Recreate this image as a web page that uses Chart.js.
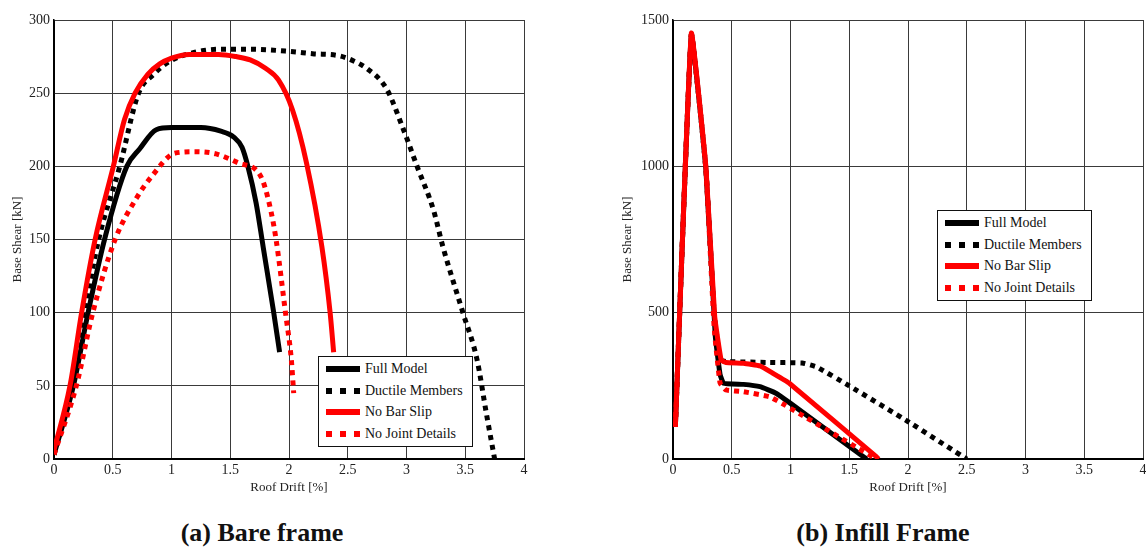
<!DOCTYPE html>
<html>
<head>
<meta charset="utf-8">
<script src="https://cdn.jsdelivr.net/npm/chart.js@4.4.1/dist/chart.umd.min.js"></script>
<style>
  body { margin: 0; background: #fff; overflow: hidden; width: 1146px; height: 547px; position: relative; font-family: "Liberation Serif", serif; }
  canvas { position: absolute; top: 0; }
  .caption { position: absolute; top: 518px; font-weight: bold; font-size: 26px; color: #111; transform: translateX(-50%); white-space: nowrap; }
  .legend { position: absolute; background: #fff; border: 1.5px solid #111; box-sizing: border-box; font-size: 14px; color: #111; }
  .row { position: absolute; left: 0; height: 16px; line-height: 16px; white-space: nowrap; }
  .sample { position: absolute; top: 5px; width: 34px; height: 6px; }
  .row span { position: absolute; top: 0; }
</style>
</head>
<body>
<canvas id="bare" width="560" height="500" style="left:0px;width:560px;height:500px"></canvas>
<canvas id="infill" width="532" height="500" style="left:618px;width:532px;height:500px"></canvas>

<div class="caption" style="left:262px">(a) Bare frame</div>
<div class="caption" style="left:883px">(b) Infill Frame</div>

<div class="legend" id="legendA" style="left:318px;top:356px;width:155px;height:91px"></div>
<div class="legend" id="legendB" style="left:937px;top:210px;width:155px;height:91px"></div>

<script>
// Pushover curves
const seriesNames = ['Full Model', 'Ductile Members', 'No Bar Slip', 'No Joint Details']

// (a) bare frame - roof drift [%] / base shear [kN]
const bareFullX = [0, 0.165, 0.29, 0.43, 0.62, 0.73, 0.87, 1.0, 1.25, 1.42, 1.53, 1.6, 1.65, 1.72, 1.78, 1.87, 1.92]
const bareFullY = [3, 50, 100, 150, 200, 212, 225, 226.5, 226.5, 224, 220, 213, 200, 175, 145, 100, 73]
const bareDuctX = [0, 0.15, 0.26, 0.38, 0.56, 0.72, 0.85, 0.99, 1.2, 1.41, 1.67, 2.01, 2.2, 2.43, 2.55, 2.66, 2.83, 2.97, 3.09, 3.23, 3.31, 3.48, 3.6, 3.68, 3.75]
const bareDuctY = [3, 50, 100, 150, 200, 250, 263, 272, 278, 280, 280, 278.5, 277, 275.5, 272, 267, 253, 226, 200, 170, 145, 100, 68, 31, 0]
const bareSlipX = [0, 0.136, 0.235, 0.35, 0.505, 0.6, 0.69, 0.8, 0.9, 1.0, 1.15, 1.4, 1.55, 1.67, 1.8, 1.91, 2.03, 2.15, 2.28, 2.35, 2.38]
const bareSlipY = [6, 50, 100, 150, 200, 232, 250, 263, 270, 274, 276.5, 276.5, 275, 272.7, 267, 259, 238.5, 202, 145, 100, 73]
const bareJointX = [0, 0.19, 0.33, 0.52, 0.7, 0.83, 1.03, 1.2, 1.38, 1.58, 1.72, 1.78, 1.85, 1.89, 1.97, 2.02, 2.04]
const bareJointY = [3, 50, 100, 150, 178, 193, 209, 210, 208.5, 202, 197.5, 189.5, 168, 150, 100, 67.7, 45]

// (b) infill frame
const infFullX = [0.02, 0.156, 0.28, 0.36, 0.4, 0.43, 0.6, 0.74, 0.88, 1.0, 1.63, 1.65]
const infFullY = [110, 1450, 990, 420, 290, 259, 255, 247, 224, 190, 5, 0]
const infDuctX = [0.02, 0.156, 0.28, 0.35, 0.4, 0.45, 0.8, 1.1, 1.22, 1.5, 2.0, 2.5]
const infDuctY = [110, 1450, 990, 500, 340, 333, 330, 328, 315, 250, 128, 0]
const infSlipX = [0.02, 0.156, 0.28, 0.355, 0.41, 0.45, 0.6, 0.74, 0.85, 0.99, 1.73, 1.75]
const infSlipY = [110, 1455, 998, 486, 338, 330, 327, 318, 293, 259, 8, 0]
const infJointX = [0.02, 0.156, 0.28, 0.35, 0.4, 0.45, 0.6, 0.82, 0.95, 1.73]
const infJointY = [110, 1450, 990, 450, 260, 236, 230, 213, 185, 0]

const xTicks = [0, 0.5, 1, 1.5, 2, 2.5, 3, 3.5, 4]

const styles = [
    { color: '#000', dash: [] },
    { color: '#000', dash: [5, 5] },
    { color: '#ff0000', dash: [] },
    { color: '#ff0000', dash: [5, 5] }
]

const serif = "'Liberation Serif', 'Times New Roman', Times, serif"
Chart.defaults.font.family = serif

function pts(xs, ys) {
    return xs.map((x, i) => ({ x: x, y: ys[i] }))
}

function makeSets(list, smooth) {
    // drawing order: No Bar Slip on top
    const order = [2, 3, 1, 0]
    return list.map((d, i) => ({
        label: seriesNames[i],
        data: d,
        borderColor: styles[i].color,
        borderDash: styles[i].dash,
        borderWidth: 5,
        borderCapStyle: 'butt',
        borderJoinStyle: 'round',
        pointRadius: 0,
        fill: false,
        cubicInterpolationMode: smooth ? 'monotone' : 'default',
        tension: smooth ? 0.4 : 0.1,
        order: order[i]
    }))
}

function makeChart(id, sets, yMax, yStep, yWidth, padRight, titleLeftPad) {
    const gridCol = ctx => (ctx.tick && (ctx.tick.value === 0)) ? '#000' : '#3a3a3a'
    return new Chart(document.getElementById(id), {
        type: 'line',
        data: { datasets: sets },
        options: {
            responsive: false,
            animation: false,
            devicePixelRatio: 1,
            layout: { padding: { top: 20, right: padRight, left: 0, bottom: 0 } },
            plugins: { legend: { display: false }, tooltip: { enabled: false } },
            scales: {
                x: {
                    type: 'linear',
                    min: 0, max: 4,
                    afterBuildTicks: s => { s.ticks = xTicks.map(v => ({ value: v })) },
                    afterFit: s => { s.height = 41 },
                    border: { color: '#000', width: 2 },
                    grid: { color: gridCol, lineWidth: 1, drawTicks: false },
                    ticks: { padding: 3, color: '#222', font: { family: serif, size: 14 }, maxRotation: 0,
                        callback: v => String(v) },
                    title: { display: true, text: 'Roof Drift [%]', color: '#222',
                        font: { family: serif, size: 13 }, padding: { top: 0, bottom: 5 } }
                },
                y: {
                    min: 0, max: yMax,
                    ticks: { stepSize: yStep, padding: 4, color: '#222', font: { family: serif, size: 14 },
                        callback: v => String(v) },
                    afterFit: s => { s.width = yWidth },
                    border: { color: '#000', width: 1.5 },
                    grid: { color: gridCol, lineWidth: 1, drawTicks: false },
                    title: { display: true, text: 'Base Shear [kN]', color: '#222',
                        font: { family: serif, size: 13 }, padding: { top: titleLeftPad, bottom: 0 } }
                }
            }
        }
    })
}

makeChart('bare', makeSets([
    pts(bareFullX, bareFullY), pts(bareDuctX, bareDuctY),
    pts(bareSlipX, bareSlipY), pts(bareJointX, bareJointY)
], true), 300, 50, 54, 36, 10)

makeChart('infill', makeSets([
    pts(infFullX, infFullY), pts(infDuctX, infDuctY),
    pts(infSlipX, infSlipY), pts(infJointX, infJointY)
], false), 1500, 500, 55, 7, 2)

// legends inside the plots
function buildLegend(id, rowTops, dotGap) {
    const box = document.getElementById(id)
    seriesNames.forEach((name, i) => {
        const row = document.createElement('div')
        row.className = 'row'
        row.style.top = rowTops[i] + 'px'
        const s = document.createElement('div')
        s.className = 'sample'
        s.style.left = '7px'
        const c = styles[i].color
        if (styles[i].dash.length) {
            s.style.background = 'repeating-linear-gradient(90deg,' + c + ' 0 6px, transparent 6px ' + dotGap + 'px)'
        } else {
            s.style.background = c
        }
        const t = document.createElement('span')
        t.style.left = '46px'
        t.textContent = name
        row.appendChild(s)
        row.appendChild(t)
        box.appendChild(row)
    })
}
buildLegend('legendA', [4, 26, 47, 69], 14)
buildLegend('legendB', [4, 26, 47, 69], 14)
</script>
</body>
</html>
